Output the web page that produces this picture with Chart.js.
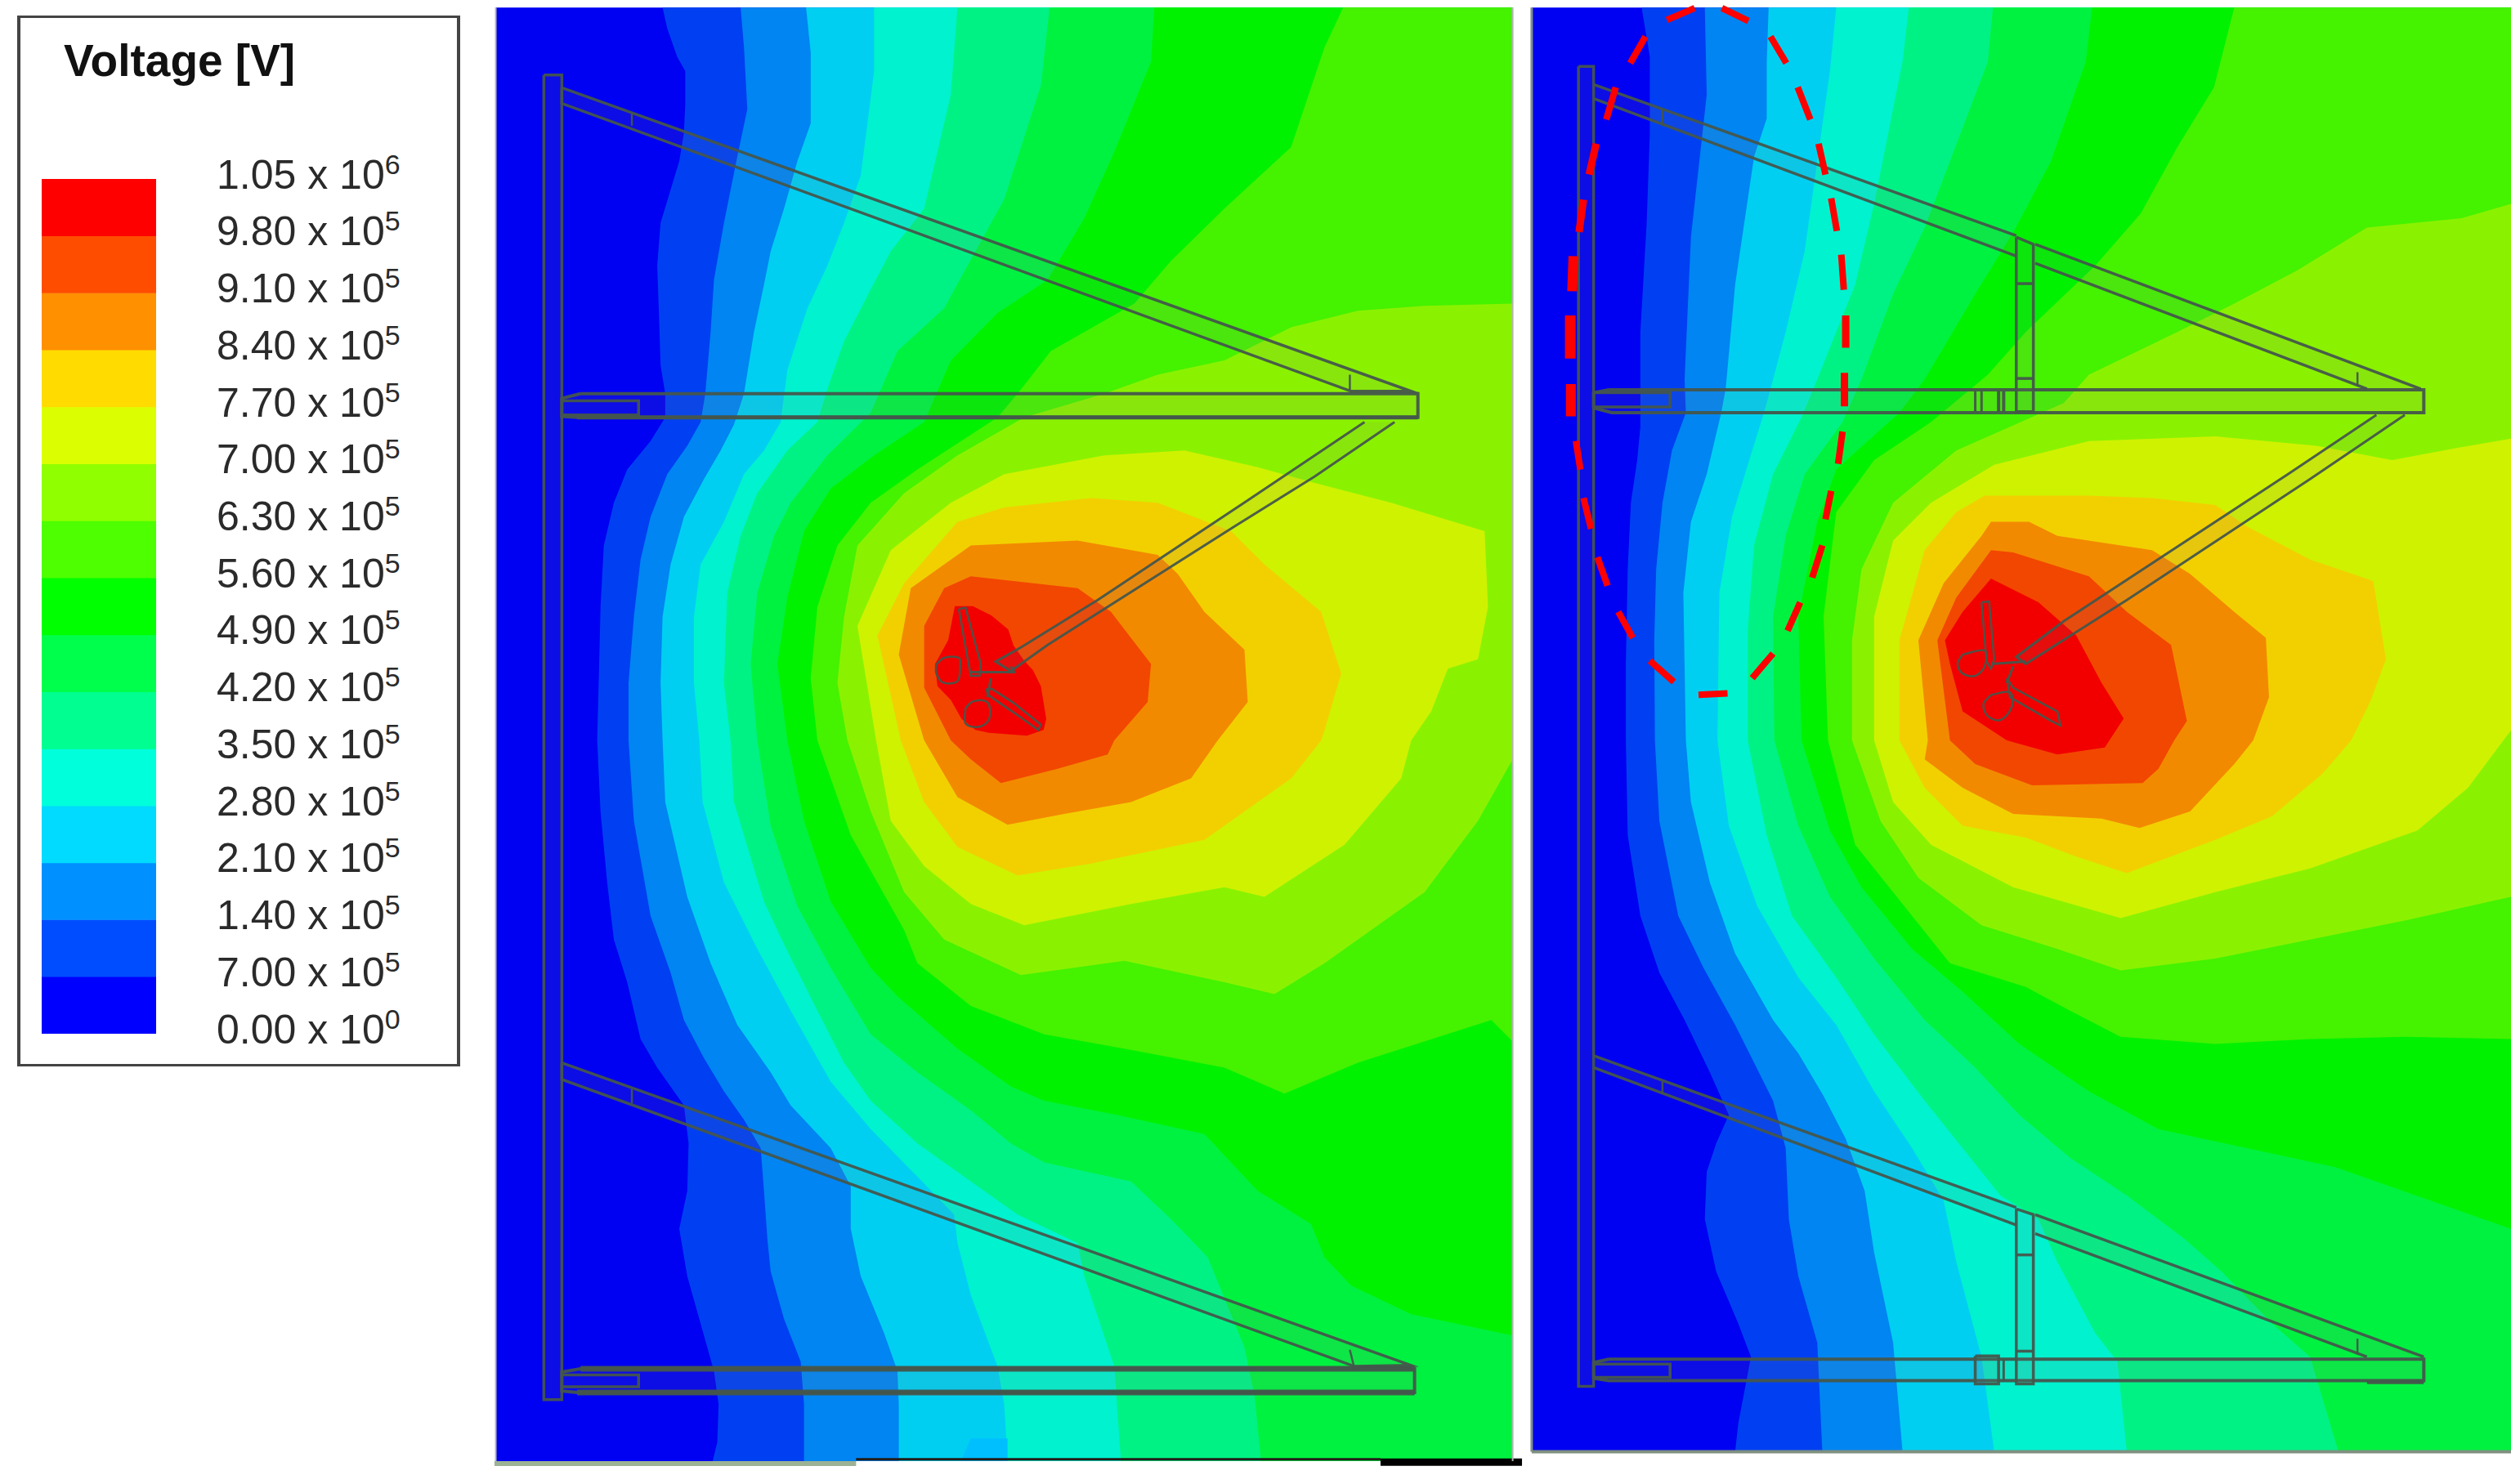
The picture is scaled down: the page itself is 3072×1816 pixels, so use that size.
<!DOCTYPE html>
<html><head><meta charset="utf-8">
<style>
html,body{margin:0;padding:0;background:#fff;width:3072px;height:1816px;overflow:hidden}
canvas{position:absolute;display:block}
#box{position:absolute;left:21px;top:19px;width:534px;height:1280px;border:3px solid #444;border-left-width:4px;border-right-width:4px;background:#fff}
#title{position:absolute;left:78px;top:47px;font:bold 55px/1 "Liberation Sans",Arial,sans-serif;color:#111;white-space:nowrap}
.lab{position:absolute;left:265px;font:50px/1 "Liberation Sans",Arial,sans-serif;color:#2a2a2a;white-space:nowrap}
.lab span{font-size:34px;position:relative;top:-18px}
</style>
<script src="https://cdn.jsdelivr.net/npm/chart.js@4/dist/chart.umd.js"></script>
</head><body>
<div id="box"></div>
<div id="title">Voltage [V]</div>
<canvas id="legendBar" width="140" height="1046" style="left:51px;top:219px"></canvas>
<canvas id="leftPanel" width="1272" height="1800" style="left:600px;top:0"></canvas>
<canvas id="rightPanel" width="1212" height="1800" style="left:1860px;top:0"></canvas>
<script>
// ---------- legend ----------
const legendMantissa=["1.05","9.80","9.10","8.40","7.70","7.00","6.30","5.60","4.90","4.20","3.50","2.80","2.10","1.40","7.00","0.00"];
const legendExponent=["6","5","5","5","5","5","5","5","5","5","5","5","5","5","5","0"];
const legendLevels=[1050000,980000,910000,840000,770000,700000,630000,560000,490000,420000,350000,280000,210000,140000,70000,0];
const legendColors=["#ff0000","#ff4d00","#ff9000","#ffdb00","#dbff00","#90ff00","#4dff00","#00ff00","#00ff4d","#00ff90","#00ffdb","#00dbff","#0090ff","#004dff","#0000ff"];
// ---------- field colours, lowest band first ----------
const fieldColors=["#0000f2","#0040f2","#0085f2","#00cff2","#00f2cf","#00f285","#00f240","#00f200","#45f200","#8af200","#cff200","#f2d000","#f28a00","#f24700","#f20000"];
const lowerShift=1561;
const both=(up,low)=>up.concat(low.map(([x,y])=>[x,y+lowerShift]));

// ---------- left field contours ----------
const leftC1=both([[258,16],[265,60],[280,120],[292,150],[292,220],[290,280],[283,340],[270,400],[255,470],[250,560],[253,680],[255,770],[262,830],[262,880],[240,930],[205,990],[185,1060],[170,1150],[165,1280],[163,1400]],[[160,0],[165,150],[175,300],[185,420],[205,510],[225,630],[250,690],[290,770],[297,850],[295,950],[283,1030],[295,1130],[315,1230],[335,1330],[342,1400],[340,1480],[333,1520]]);
const leftC2=both([[375,16],[380,100],[385,230],[370,330],[350,470],[335,590],[330,700],[322,830],[315,890],[295,940],[265,1000],[240,1090],[225,1180],[215,1300],[207,1440]],[[207,0],[215,170],[240,370],[270,490],[290,590],[320,670],[350,740],[380,800],[405,860],[410,950],[415,1050],[420,1120],[440,1220],[465,1310],[470,1400],[470,1520]]);
const leftC3=both([[473,16],[480,110],[480,260],[460,340],[440,440],[420,530],[410,600],[395,700],[380,830],[365,895],[345,950],[320,1010],[290,1090],[270,1190],[258,1300],[255,1440]],[[258,0],[262,130],[295,330],[330,470],[370,600],[420,700],[450,770],[510,860],[540,940],[540,1030],[555,1130],[590,1250],[610,1330],[612,1400],[612,1520]]);
const leftC4=both([[575,16],[575,150],[555,370],[530,470],[505,560],[475,650],[445,780],[435,890],[410,950],[380,1000],[350,1100],[315,1190],[305,1300],[305,1440]],[[313,0],[318,130],[350,300],[400,440],[450,570],[510,720],[570,820],[640,920],[695,1000],[700,1060],[720,1170],[760,1320],[770,1400],[775,1520]]);
const leftC5=both([[700,16],[690,200],[650,440],[600,530],[570,610],[530,720],[505,820],[490,890],[445,950],[400,1040],[375,1130],[355,1250],[350,1440]],[[360,0],[365,130],[410,340],[440,430],[490,570],[530,680],[570,760],[640,850],[720,930],[790,1000],[880,1060],[890,1130],[935,1320],[945,1520]]);
const leftC6=both([[838,16],[825,180],[770,420],[715,560],[680,650],[610,740],[570,870],[505,960],[450,1060],[425,1130],[400,1250],[390,1400]],[[400,0],[420,180],[460,350],[510,480],[570,620],[640,700],[720,780],[780,850],[830,890],[960,930],[1020,1010],[1075,1090],[1130,1280],[1145,1380],[1155,1520]]);
const leftC7=both([[995,16],[990,130],[935,320],[890,460],[835,590],[760,660],[690,760],[650,890],[575,960],[510,1030],[470,1120],[445,1260],[430,1400]],[[445,0],[470,170],[510,340],[570,480],[610,540],[700,650],[780,730],[830,760],[940,790],[1070,830],[1110,890],[1150,950],[1230,1020],[1250,1090],[1290,1150],[1380,1210],[1532,1255]]);
const leftC8=both([[1278,16],[1250,100],[1200,310],[1100,440],[1020,550],[965,640],[840,740],[790,830],[760,880],[640,990],[570,1060],[520,1150],[490,1280],[480,1430]],[[490,0],[540,200],[620,400],[640,470],[720,560],[830,620],[950,650],[1100,690],[1190,745],[1300,680],[1500,590],[1532,635]]);
const leftC9=both([[1532,640],[1400,645],[1300,655],[1200,690],[1100,760],[1000,790],[920,830],[800,880],[700,960],[620,1040],[550,1150],[530,1300],[520,1440]],[[535,0],[570,150],[620,320],[680,420],[795,495],[950,465],[1100,510],[1175,535],[1250,470],[1400,320],[1480,170],[1532,40]]);
const leftC10=both([[920,960],[1040,950],[1150,985],[1240,1020],[1350,1060],[1490,1120],[1495,1280],[1480,1390],[1435,1410],[1410,1500]],[[1380,0],[1365,80],[1280,220],[1160,330],[1100,310],[960,345],[800,390],[720,345],[650,265],[600,170],[578,0]]).concat([[550,1320],[600,1160],[690,1060],[770,1000]]);
const leftC11=both([[900,1050],[1000,1060],[1110,1120],[1160,1190],[1245,1290],[1275,1420],[1250,1540]],[[1245,0],[1200,80],[1070,210],[900,260],[790,285],[700,225],[650,130],[615,0]]).concat([[580,1340],[620,1230],[700,1100],[770,1070]]);
const leftC12=both([[880,1140],[1000,1170],[1030,1210],[1070,1290],[1130,1370],[1135,1480]],[[1090,0],[1050,80],[960,130],[860,155],[775,178],[700,120],[650,0]]).concat([[612,1380],[630,1240],[720,1150]]);
const leftC13=both([[720,1215],[880,1240],[930,1290],[990,1400],[985,1480]],[[935,0],[925,30],[850,60],[765,90],[720,40],[690,0]]).concat([[650,1450],[650,1320],[680,1240]]);
const leftC14=[[696,1278],[723,1278],[751,1298],[776,1327],[784,1361],[800,1393],[813,1413],[825,1447],[833,1516],[829,1539],[804,1551],[747,1545],[727,1539],[706,1516],[690,1476],[670,1447],[666,1401],[686,1350]];
const leftPatch=both([],[[705,1520],[720,1472],[775,1472],[775,1520]]);

// ---------- right field contours ----------
const rightC1=both([[192,16],[205,120],[205,280],[200,470],[190,700],[190,900],[185,970],[175,1060],[170,1200],[167,1400]],[[167,0],[170,200],[190,370],[220,490],[260,590],[300,700],[330,790],[310,850],[295,910],[292,1010],[310,1120],[345,1230],[365,1300],[345,1440],[340,1500]]);
const rightC2=both([[292,16],[295,200],[285,320],[270,500],[260,800],[262,870],[240,950],[225,1060],[215,1200],[212,1350]],[[213,0],[220,170],[250,370],[290,480],[340,600],[370,680],[400,760],[420,860],[425,1010],[440,1130],[470,1270],[478,1500]]);
const rightC3=both([[393,16],[390,130],[390,250],[370,330],[340,600],[325,820],[318,870],[295,1000],[270,1100],[258,1250]],[[262,0],[270,130],[300,300],[340,450],[400,590],[440,660],[480,750],[515,840],[545,950],[560,1080],[590,1270],[605,1500]]);
const rightC4=both([[500,16],[490,150],[470,340],[450,530],[420,700],[388,860],[360,980],[335,1090],[315,1250]],[[312,0],[330,180],[375,350],[440,500],[500,600],[560,740],[620,860],[670,970],[690,1100],[730,1300],[750,1500]]);
const rightC5=both([[615,16],[605,130],[560,430],[530,600],[470,800],[445,880],[400,1000],[370,1150],[360,1330]],[[360,0],[390,200],[430,370],[500,500],[560,620],[640,760],[700,860],[760,960],[820,1010],[850,1100],[910,1250],[945,1310],[960,1500]]);
const rightC6=both([[748,16],[740,130],[680,340],[640,480],[590,620],[540,800],[510,890],[450,1000],[420,1130],[400,1300]],[[402,0],[440,180],[490,330],[560,460],[640,590],[720,690],[790,790],[870,880],[960,960],[1050,1050],[1110,1120],[1190,1230],[1250,1300],[1295,1500]]);
const rightC7=both([[905,16],[895,130],[840,340],[780,490],[720,620],[640,800],[600,870],[500,990],[470,1100],[440,1300]],[[445,0],[490,190],[540,310],[620,440],[700,530],[790,640],[900,740],[1010,820],[1150,860],[1290,900],[1568,1030]]);
const rightC8=both([[1130,16],[1098,184],[1040,310],[982,450],[910,560],[800,700],[740,790],[650,890],[560,970],[500,1080],[480,1300]],[[487,0],[530,220],[620,370],[680,470],[800,520],[870,570],[950,625],[1100,640],[1250,630],[1400,625],[1568,630]]);
const rightC9=both([[1568,430],[1490,460],[1340,480],[1230,570],[1130,640],[1040,700],[900,790],[860,850],[690,950],[590,1060],[540,1200],[525,1350]],[[525,0],[570,170],[630,290],[730,390],[850,440],[950,485],[1100,460],[1250,420],[1400,380],[1568,330]]);
const rightC10=both([[1568,925],[1480,945],[1380,970],[1260,940],[1100,920],[900,930],[750,980],[650,1060],[590,1140],[560,1300]],[[560,0],[590,130],[650,220],[780,310],[950,375],[1100,320],[1250,270],[1420,190],[1500,100],[1556,0]]).concat([[1568,1540]]);
const rightC11=both([[735,1045],[900,1045],[1000,1050],[1100,1065],[1150,1110],[1250,1180],[1350,1225],[1370,1390],[1345,1480]],[[1315,0],[1270,70],[1190,160],[1100,210],[1000,260],[960,280],[880,245],[800,205],[700,180],[640,100],[600,0]]).concat([[600,1350],[640,1160],[690,1080]]);
const rightC12=both([[745,1100],[805,1100],[850,1130],[1000,1160],[1060,1210],[1130,1290],[1180,1345],[1185,1470]],[[1160,0],[1130,50],[1060,150],[980,185],[920,165],[780,155],[700,100],[640,40],[645,0]]).concat([[630,1350],[670,1230],[730,1130]]);
const rightC13=both([[745,1160],[780,1165],[900,1215],[960,1290],[1030,1360],[1055,1520]],[[1035,0],[1010,60],[985,90],[810,95],[720,50],[680,0]]).concat([[660,1350],[690,1260]]);
const rightC14=both([[745,1220],[820,1270],[880,1340],[920,1440],[955,1515]],[[925,15],[850,30],[770,0]]).concat([[700,1500],[680,1400],[672,1350],[700,1290]]);

// ---------- left structure outlines ----------
const leftMast=[[80,158],[107,158],[107,2951],[80,2951],[80,158]];
const leftDiagA=[[107,185],[1380,825],[1290,825],[107,218],[107,185]];
const leftCrossA=[[212,240],[212,265]], leftCrossB=[[1288,790],[1288,822]];
const leftRailA=[[135,830],[1390,830],[1390,880],[130,880],[107,878],[107,840],[135,830]];
const leftRailAFoot=[[130,880],[1390,880]];
const leftBoxA=[[107,845],[222,845],[222,875],[107,875]];
const leftStrut=[[1310,890],[1135,1055],[910,1265],[795,1365],[757,1395],[780,1415],[835,1360],[1115,1110],[1235,1005],[1355,890]];
const leftHub=[[720,1417],[785,1417],[780,1405]];
const leftStem=[[750,1430],[745,1470]];
const leftArm1=[[702,1284],[712,1281],[735,1400],[733,1425],[720,1425],[716,1395],[702,1284]];
const leftArm2=[[743,1453],[752,1453],[784,1482],[825,1528],[821,1539],[792,1510],[763,1482],[746,1465],[743,1453]];
const leftRing1=[[668,1401],[680,1387],[702,1387],[704,1401],[700,1436],[678,1439],[668,1419],[668,1401]];
const leftRing2=[[712,1493],[723,1479],[743,1479],[749,1499],[745,1522],[729,1533],[712,1525],[712,1493]];
const leftDiagB=both([],[[107,680],[1380,1318],[1295,1320],[107,715],[107,680]]);
const leftCrossC=both([],[[212,735],[212,765]]), leftCrossD=both([],[[1288,1285],[1295,1325]]);
const leftRailB=both([],[[135,1325],[1385,1325],[1385,1375],[130,1375],[107,1372],[107,1332],[135,1325]]);
const leftRailBTop=both([],[[135,1325],[1385,1325]]), leftRailBFoot=both([],[[130,1375],[1385,1375]]);
const leftBoxB=both([],[[107,1338],[222,1338],[222,1363],[107,1363]]);
const leftEdgeGrey=[[6,3086],[548,3086]];
const leftEdgeBlack=[[548,3077],[1334,3077]];
const leftEdgeThick=[[1334,3083],[1546,3083]];

// ---------- right structure outlines ----------
const rightMast=[[92,140],[116,140],[116,2923],[92,2923],[92,140]];
const rightDiagA1=[[116,178],[785,497]], rightDiagA2=[[116,208],[785,540]];
const rightDiagA3=[[815,515],[1425,820]], rightDiagA4=[[815,555],[1340,820]];
const rightCrossA=[[225,230],[225,265]], rightCrossB=[[1325,785],[1325,815]];
const rightPostA=[[785,500],[812,515],[812,868],[785,868],[785,500]];
const rightBarA=[[785,598],[812,598]], rightBarB=[[785,798],[812,798]];
const rightRailA=[[140,822],[1430,822],[1430,870],[145,870],[116,860],[116,828],[140,822]];
const rightBoxA=[[116,828],[237,828],[237,858],[116,858]];
const rightTickA=[[720,825],[720,868]], rightTickB=[[730,825],[730,868]], rightTickC=[[757,825],[757,868]], rightTickD=[[765,825],[765,868]];
const rightStrut=[[1355,875],[1215,1000],[860,1310],[785,1385],[800,1400],[960,1265],[1250,1010],[1400,875]];
const rightArm1=[[730,1270],[742,1268],[750,1390],[745,1410],[738,1395],[730,1270]];
const rightRing1=[[700,1380],[735,1372],[735,1405],[720,1425],[700,1420],[692,1400],[700,1380]];
const rightHub=[[745,1400],[800,1395]];
const rightStem=[[780,1405],[770,1440]];
const rightArm2=[[770,1430],[780,1450],[850,1500],[855,1530],[840,1520],[775,1470],[770,1430]];
const rightRing2=[[745,1465],[775,1460],[778,1490],[760,1518],[740,1510],[733,1485],[745,1465]];
const rightDiagB1=both([],[[116,665],[785,985]]), rightDiagB2=both([],[[116,690],[785,1022]]);
const rightDiagB3=both([],[[815,1000],[1430,1300]]), rightDiagB4=both([],[[815,1040],[1340,1300]]);
const rightCrossC=both([],[[225,720],[225,745]]), rightCrossD=both([],[[1325,1262],[1325,1295]]);
const rightPostB=both([],[[785,988],[812,1000],[812,1357],[785,1357],[785,988]]);
const rightBarC=both([],[[785,1085],[812,1085]]), rightBarD=both([],[[785,1288],[812,1288]]);
const rightRailB=both([],[[140,1305],[1430,1305],[1430,1350],[140,1350],[116,1345],[116,1312],[140,1305]]);
const rightBoxB=both([],[[116,1315],[237,1315],[237,1343],[116,1343]]);
const rightClamp=both([],[[720,1298],[757,1298],[757,1357],[720,1357],[720,1298]]);
const rightTickE=both([],[[765,1305],[765,1350]]);
const rightFoot=both([],[[1340,1354],[1430,1354]]);
const rightEdgeA=[[18,16],[18,3061]], rightEdgeB=[[18,3061],[1568,3061]];

// ---------- red dashes round the marked zone: [x1,y1,x2,y2,width] ----------
const redDashes=[[232,42,276,17,8],[319,17,361,44,8],[396,77,421,133,8],[439,184,459,252,8],[472,303,483,368,8],[492,418,501,487,8],[508,537,512,611,8],[515,665,515,733,9],[513,786,513,857,9],[510,910,503,978,8],[492,1035,483,1095,8],[478,1150,462,1218,8],[443,1270,423,1330,8],[400,1378,367,1430,8],[328,1462,282,1465,8],[243,1438,205,1393,8],[178,1345,155,1290,8],[138,1235,122,1175,8],[112,1115,100,1050,8],[95,990,88,930,8],[80,810,80,878,12],[79,665,79,756,13],[84,540,82,614,12],[100,421,93,489,9],[120,303,109,368,9],[151,184,136,252,8],[198,77,174,133,8]];

const toPts=a=>a.map(([x,y])=>({x,y}));
const STROKE="rgba(68,86,76,0.95)", TINT="rgba(128,128,128,0.10)";
function area(pts,color){return {data:toPts(pts.concat([pts[0]])),showLine:true,pointRadius:0,borderWidth:0,fill:'shape',backgroundColor:color,borderColor:color,tension:0};}
function tinted(pts,w){return {data:toPts(pts),showLine:true,pointRadius:0,borderWidth:w,fill:'shape',backgroundColor:TINT,borderColor:STROKE,tension:0};}
function stroke(pts,w,color){return {data:toPts(pts),showLine:true,pointRadius:0,borderWidth:w,fill:false,borderColor:color||STROKE,tension:0};}
function ring(pts,w){return Object.assign(stroke(pts,w),{tension:0.35});}

function panel(id,xMax,fieldXRight,fieldBottom,contours,extras){
  const ds=[area([[contours.left,16],[fieldXRight,16],[fieldXRight,fieldBottom],[contours.left,fieldBottom]],fieldColors[0])];
  contours.list.forEach((c,i)=>{
    let pts=c;
    if(contours.close[i]) pts=c.concat(contours.close[i]);
    ds.push(area(pts,fieldColors[i+1]));
  });
  extras.forEach(e=>ds.push(e));
  ds.forEach((d,i)=>d.order=ds.length-i);
  new Chart(document.getElementById(id),{type:'scatter',data:{datasets:ds},options:{
    responsive:false,animation:false,devicePixelRatio:1,
    layout:{padding:0},
    plugins:{legend:{display:false},tooltip:{enabled:false}},
    events:[],
    scales:{x:{type:'linear',display:false,min:0,max:xMax},y:{type:'linear',display:false,min:0,max:3101.5,reverse:true}}
  }});
}
const LR=1532, LB=3081, RR=1568, RB=3061;
const lClose=[[[LR,LB],[LR,16]],[[LR,LB],[LR,16]],[[LR,LB],[LR,16]],[[LR,LB],[LR,16]],[[LR,LB],[LR,16]],[[LR,LB],[LR,16]],[[LR,16]],[[LR,16]],null,null,null,null,null,null];
panel('leftPanel',1272*1568/1280,LR,LB,{left:8,list:[leftC1,leftC2,leftC3,leftC4,leftC5,leftC6,leftC7,leftC8,leftC9,leftC10,leftC11,leftC12,leftC13,leftC14],close:lClose},[
  area(leftPatch,"#00bfff"),
  stroke(leftEdgeGrey,6,"#9cb294"),stroke(leftEdgeBlack,3,"#221c18"),stroke(leftEdgeThick,9,"#000"),
  stroke([[8,16],[8,LB]],2,"#b5b5b5"),stroke([[LR,16],[LR,LB]],2,"#b5b5b5"),
  tinted(leftMast,3.5),tinted(leftDiagA,3.5),tinted(leftDiagB,3.5),tinted(leftStrut,3),
  tinted(leftRailA,4),tinted(leftRailB,4),stroke(leftRailAFoot,5),stroke(leftRailBTop,7),stroke(leftRailBFoot,7),
  stroke(leftBoxA,3.5),stroke(leftBoxB,3.5),
  stroke(leftCrossA,2.5),stroke(leftCrossB,2.5),stroke(leftCrossC,2.5),stroke(leftCrossD,2.5),
  stroke(leftHub,3),stroke(leftStem,3),stroke(leftArm1,2.5),stroke(leftArm2,2.5),ring(leftRing1,2.5),ring(leftRing2,2.5)
]);
const rClose=[[[RR,RB],[RR,16]],[[RR,RB],[RR,16]],[[RR,RB],[RR,16]],[[RR,RB],[RR,16]],[[RR,RB],[RR,16]],[[RR,RB],[RR,16]],[[RR,16]],[[RR,16]],null,[[RR,1540]],null,null,null,null];
panel('rightPanel',1568,RR,RB,{left:18,list:[rightC1,rightC2,rightC3,rightC4,rightC5,rightC6,rightC7,rightC8,rightC9,rightC10,rightC11,rightC12,rightC13,rightC14],close:rClose},[
  stroke(rightEdgeA,3,"#7f8f86"),stroke(rightEdgeB,4,"#7f9080"),
  area(rightDiagA1.concat(rightDiagA2.slice().reverse()),TINT),area(rightDiagA3.concat(rightDiagA4.slice().reverse())  ,TINT),
  area(rightDiagB1.concat(rightDiagB2.slice().reverse()),TINT),area(rightDiagB3.concat(rightDiagB4.slice().reverse()),TINT),
  tinted(rightMast,3.5),
  tinted(rightRailA,4),tinted(rightRailB,4),tinted(rightPostA,3.5),tinted(rightPostB,3.5),
  stroke(rightDiagA1,3.5),stroke(rightDiagA2,3.5),stroke(rightDiagA3,3.5),stroke(rightDiagA4,3.5),
  stroke(rightDiagB1,3.5),stroke(rightDiagB2,3.5),stroke(rightDiagB3,3.5),stroke(rightDiagB4,3.5),
  stroke(rightCrossA,2.5),stroke(rightCrossB,2.5),stroke(rightCrossC,2.5),stroke(rightCrossD,2.5),
  stroke(rightBarA,3.5),stroke(rightBarB,3.5),stroke(rightBarC,3.5),stroke(rightBarD,3.5),
  stroke(rightBoxA,3.5),stroke(rightBoxB,3.5),
  stroke(rightTickA,3),stroke(rightTickB,3),stroke(rightTickC,4),stroke(rightTickD,4),stroke(rightTickE,3),
  tinted(rightClamp,3.5),stroke(rightFoot,4),
  tinted(rightStrut,3),stroke(rightHub,3),stroke(rightStem,3),stroke(rightArm1,2.5),stroke(rightArm2,2.5),ring(rightRing1,2.5),ring(rightRing2,2.5)
].concat(redDashes.map(([x1,y1,x2,y2,w])=>stroke([[x1,y1],[x2,y2]],w,"#ff0000"))));

// legend colour bar (floating bars between consecutive levels)
const legendChart=new Chart(document.getElementById('legendBar'),{type:'bar',
  data:{labels:["V"],datasets:legendColors.map((c,i)=>({data:[[legendLevels[i+1],legendLevels[i]]],backgroundColor:c,borderWidth:0,barPercentage:1,categoryPercentage:1,grouped:false}))},
  options:{responsive:false,animation:false,devicePixelRatio:1,layout:{padding:0},events:[],
    plugins:{legend:{display:false},tooltip:{enabled:false}},
    scales:{x:{display:false},y:{display:false,min:0,max:1050000}}}});
legendLevels.forEach((v,i)=>{
  const y=219+legendChart.scales.y.getPixelForValue(v);
  const d=document.createElement('div');d.className='lab';
  d.style.top=(y-6-24.4)+'px';
  d.innerHTML=legendMantissa[i]+' x 10<span>'+legendExponent[i]+'</span>';
  document.body.appendChild(d);
});
</script>
</body></html>
